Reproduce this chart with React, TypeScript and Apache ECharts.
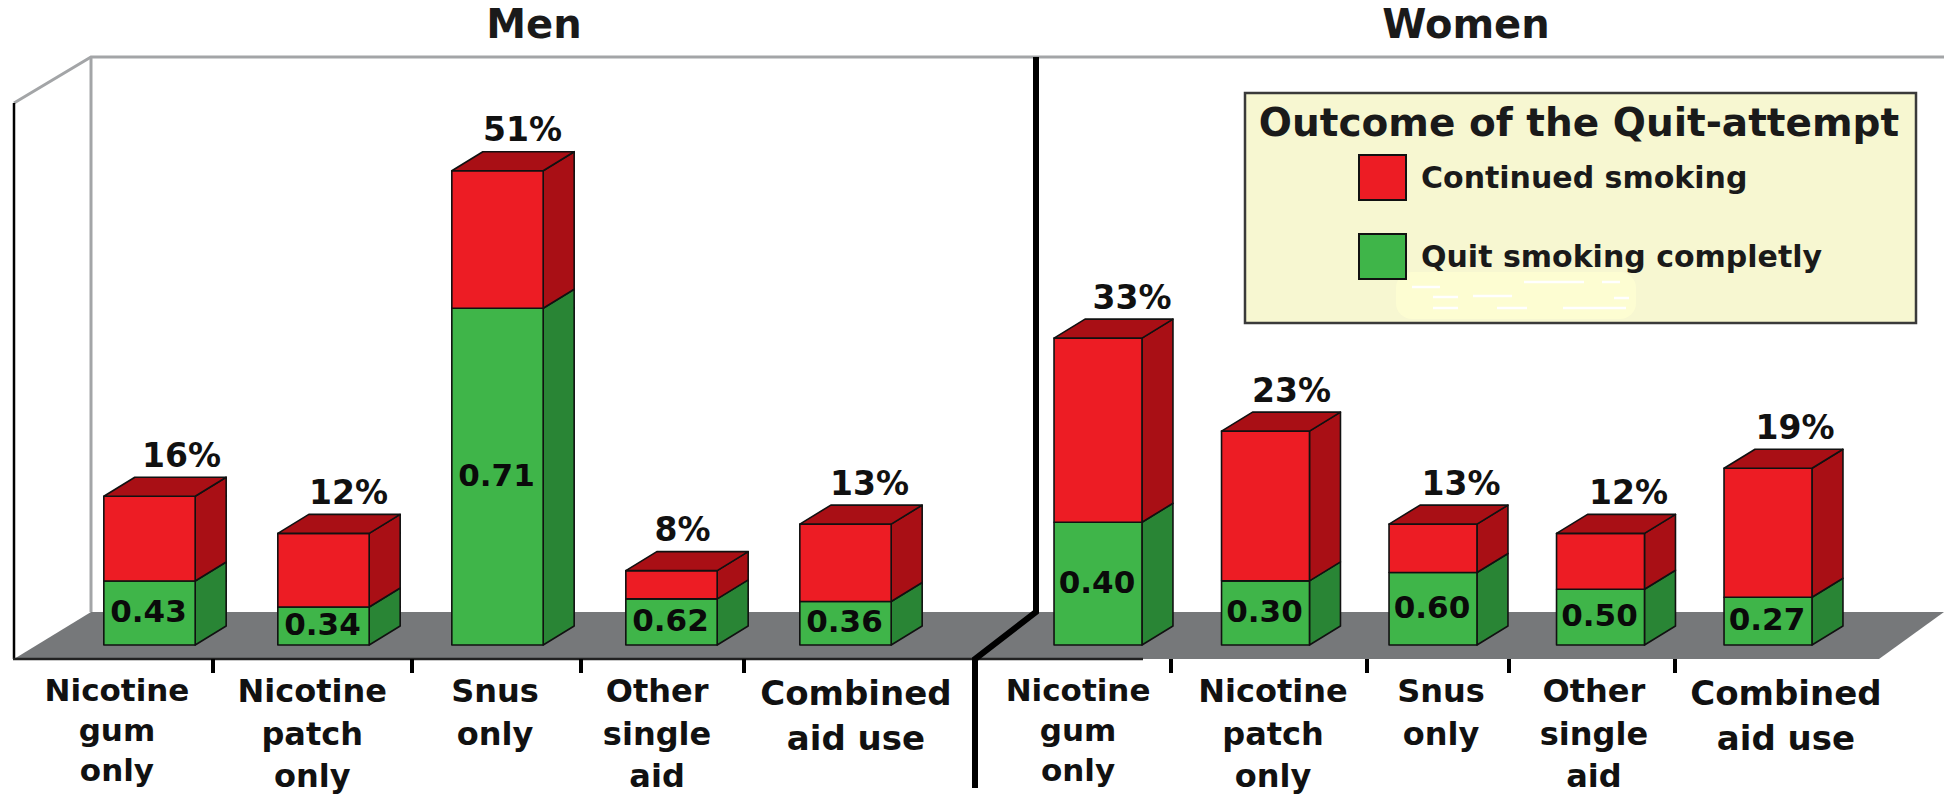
import React, { useEffect, useRef } from "react";
import * as echarts from "echarts";

// Attempt shares (%) and the quit rate within each aid group.
const aidLabels = [
  "Nicotine\ngum\nonly",
  "Nicotine\npatch\nonly",
  "Snus\nonly",
  "Other\nsingle\naid",
  "Combined\naid use",
];
const menShare = [16, 12, 51, 8, 13];
const womenShare = [33, 23, 13, 12, 19];
const menQuitRate = [0.43, 0.34, 0.71, 0.62, 0.36];
const womenQuitRate = [0.4, 0.3, 0.6, 0.5, 0.27];

const quitName = "Quit smoking completly";
const continuedName = "Continued smoking";

// Tick and label positions along each panel's axis, in bar-slot units.
const menTickAt = [0.865, 2.009, 2.98, 3.917];
const menLabelAt = [0.313, 1.435, 2.486, 3.417, 4.56];
const womenTickAt = [0.936, 2.106, 2.954, 3.945];
const womenLabelAt = [0.381, 1.545, 2.548, 3.461, 4.607];

// Horizontal nudge of each share label from its bar's centre.
const menShareShift = [32, 25, 25, 11, 24];
const womenShareShift = [34, 26, 28, 28, 27];

const FONT = '"DejaVu Sans", sans-serif';
const INK = "#111111";
const DEPTH_X = 31;
const DEPTH_Y = 19;
const BAR_RATIO = 0.525;

const RED = { front: "#ed1c24", dark: "#a90f15" };
const GREEN = { front: "#3fb549", dark: "#298535" };

// One extruded box segment: front face, right side, and a lid on the top segment.
function boxSegment(
  colors: { front: string; dark: string },
  withLid: boolean,
  labelOf: (i: number, x: number, yLow: number, yHigh: number) => any
) {
  return (params: any, api: any) => {
    const i = api.value(0);
    const [cx, yLow] = api.coord([i, api.value(1)]);
    const [, yHigh] = api.coord([i, api.value(2)]);
    const w = api.size([1, 0])[0] * BAR_RATIO;
    const x0 = cx - w / 2;
    const x1 = cx + w / 2;
    const edge = { stroke: INK, lineWidth: 1.6, lineJoin: "round" };
    const children: any[] = [
      {
        type: "polygon",
        shape: {
          points: [
            [x1, yHigh],
            [x1 + DEPTH_X, yHigh - DEPTH_Y],
            [x1 + DEPTH_X, yLow - DEPTH_Y],
            [x1, yLow],
          ],
        },
        style: { fill: colors.dark, ...edge },
      },
      {
        type: "rect",
        shape: { x: x0, y: yHigh, width: w, height: yLow - yHigh },
        style: { fill: colors.front, ...edge },
      },
    ];
    if (withLid) {
      children.push({
        type: "polygon",
        shape: {
          points: [
            [x0, yHigh],
            [x0 + DEPTH_X, yHigh - DEPTH_Y],
            [x1 + DEPTH_X, yHigh - DEPTH_Y],
            [x1, yHigh],
          ],
        },
        style: { fill: colors.dark, ...edge },
      });
    }
    children.push(labelOf(i, cx, yLow, yHigh));
    return { type: "group", children };
  };
}

function panelSeries(
  share: number[],
  rate: number[],
  shift: number[],
  xAxisIndex: number,
  yAxisIndex: number
) {
  const quit = share.map((s, i) => [i, 0, s * rate[i], rate[i]]);
  const continued = share.map((s, i) => [i, s * rate[i], s, s]);
  return [
    {
      type: "custom",
      name: quitName,
      xAxisIndex,
      yAxisIndex,
      itemStyle: { color: GREEN.front },
      encode: { x: 0, y: [1, 2] },
      data: quit,
      renderItem: boxSegment(GREEN, false, (i, cx, yLow, yHigh) => ({
        type: "text",
        z2: 5,
        style: {
          x: cx - 1,
          y: (yLow + yHigh) / 2 - 2,
          text: rate[i].toFixed(2),
          fill: "#0a0a0a",
          font: `bold 31px ${FONT}`,
          align: "center",
          verticalAlign: "middle",
        },
      })),
    },
    {
      type: "custom",
      name: continuedName,
      xAxisIndex,
      yAxisIndex,
      itemStyle: { color: RED.front },
      encode: { x: 0, y: [1, 2] },
      data: continued,
      renderItem: boxSegment(RED, true, (i, cx, _yLow, yHigh) => ({
        type: "text",
        z2: 5,
        style: {
          x: cx + shift[i],
          y: yHigh - 41,
          text: `${share[i]}%`,
          fill: "#111111",
          font: `bold 33px ${FONT}`,
          align: "center",
          verticalAlign: "middle",
        },
      })),
    },
  ];
}

// A hidden band axis places the bars; a value axis on the same grid carries the ticks and labels.
function bandAxis(gridIndex: number) {
  return {
    type: "category",
    gridIndex,
    show: false,
    data: aidLabels,
    boundaryGap: true,
  };
}

const labelRich = (fontSize: number, lineHeight: number) => ({
  fontFamily: FONT,
  fontWeight: "bold",
  fontSize,
  lineHeight,
  color: INK,
  align: "center",
});

function labelAxis(gridIndex: number, tickAt: number[], labelAt: number[]) {
  return {
    type: "value",
    gridIndex,
    position: "bottom",
    offset: 14,
    min: 0,
    max: 5,
    splitLine: { show: false },
    axisLine: { show: false },
    axisTick: {
      show: true,
      customValues: tickAt,
      length: 14,
      lineStyle: { color: "#000000", width: 4 },
    },
    axisLabel: {
      show: true,
      customValues: labelAt,
      margin: 11,
      align: "center",
      verticalAlign: "top",
      formatter: (v: number) => {
        const i = labelAt.indexOf(v);
        if (i === 4) return `{wide|${aidLabels[i]}}`;
        return i === 0 ? `{tight|${aidLabels[i]}}` : `{open|${aidLabels[i]}}`;
      },
      rich: {
        tight: labelRich(31, 40),
        open: labelRich(32, 42.5),
        wide: labelRich(34, 45),
      },
    },
  };
}

// Erased-text smudge inside the legend box, as pale strokes.
const smudgeStrokes = [
  [1412, 287, 1440, 287],
  [1433, 297, 1458, 297],
  [1473, 296, 1512, 296],
  [1524, 282, 1584, 282],
  [1602, 282, 1620, 282],
  [1433, 308, 1458, 308],
  [1497, 308, 1527, 308],
  [1563, 308, 1626, 308],
  [1614, 298, 1629, 298],
];

function backdrop() {
  const wall = "#a3a5a7";
  const stroke = (points: number[][], color: string, lineWidth: number, z = 0) => ({
    type: "polyline",
    z,
    shape: { points },
    style: { stroke: color, lineWidth, fill: "none" },
  });
  return [
    // Floor and walls of the 3D box
    {
      type: "polygon",
      z: 0,
      shape: { points: [[91, 612], [1944, 612], [1879, 659], [14, 659]] },
      style: { fill: "#76787a" },
    },
    stroke([[14, 103], [91, 57], [1944, 57]], wall, 3),
    stroke([[91, 57], [91, 612]], wall, 3),
    stroke([[14, 103], [14, 659]], "#000000", 2.5),
    stroke([[13, 659], [1143, 659]], "#222222", 2.5),
    // Panel divider
    stroke([[1036, 57], [1036, 612], [975, 659], [975, 788]], "#000000", 6),
    // Legend box
    {
      type: "rect",
      z: 0,
      shape: { x: 1245, y: 93, width: 671, height: 230 },
      style: { fill: "#f7f7d1", stroke: "#3a3a3a", lineWidth: 2.5 },
    },
    {
      type: "rect",
      z: 0,
      shape: { x: 1396, y: 272, width: 240, height: 47, r: 16 },
      style: { fill: "#fdfdd2" },
    },
    ...smudgeStrokes.map(([x1, y1, x2, y2]) => ({
      type: "line",
      z: 0,
      shape: { x1, y1, x2, y2 },
      style: { stroke: "#ffffff", lineWidth: 2.5 },
    })),
    {
      type: "text",
      z: 1,
      style: {
        x: 1579,
        y: 122,
        text: "Outcome of the Quit-attempt",
        font: `bold 39px ${FONT}`,
        fill: "#1a1a1a",
        align: "center",
        verticalAlign: "middle",
      },
    },
    ...[
      { text: "Men", x: 534 },
      { text: "Women", x: 1466 },
    ].map((t) => ({
      type: "text",
      z: 1,
      style: {
        x: t.x,
        y: 24,
        text: t.text,
        font: `bold 40px ${FONT}`,
        fill: "#1a1a1a",
        align: "center",
        verticalAlign: "middle",
      },
    })),
  ];
}

export default function App() {
  const ref = useRef<HTMLDivElement>(null);

  useEffect(() => {
    const chart = echarts.init(ref.current!, undefined, { renderer: "svg" });
    chart.setOption({
      animation: false,
      backgroundColor: "#ffffff",
      grid: [
        { left: 62.5, width: 870, top: 87, height: 558 },
        { left: 1014.25, width: 837.5, top: 87, height: 558 },
      ],
      xAxis: [
        bandAxis(0),
        labelAxis(0, menTickAt, menLabelAt),
        bandAxis(1),
        labelAxis(1, womenTickAt, womenLabelAt),
      ],
      yAxis: [
        { type: "value", gridIndex: 0, show: false, min: 0, max: 60 },
        { type: "value", gridIndex: 1, show: false, min: 0, max: 60 },
      ],
      legend: {
        orient: "vertical",
        left: 1358,
        top: 154,
        padding: 0,
        itemWidth: 47,
        itemHeight: 45,
        itemGap: 32,
        icon: "rect",
        selectedMode: false,
        data: [continuedName, quitName],
        itemStyle: { borderColor: "#111111", borderWidth: 2 },
        textStyle: { fontFamily: FONT, fontWeight: "bold", fontSize: 30, color: "#1a1a1a", padding: [0, 0, 0, 10] },
      },
      graphic: backdrop(),
      series: [
        ...panelSeries(menShare, menQuitRate, menShareShift, 0, 0),
        ...panelSeries(womenShare, womenQuitRate, womenShareShift, 2, 1),
      ],
    });
    return () => chart.dispose();
  }, []);

  return (
    <div
      ref={ref}
      style={{ position: "fixed", left: 0, top: 0, width: 1944, height: 799 }}
    />
  );
}
